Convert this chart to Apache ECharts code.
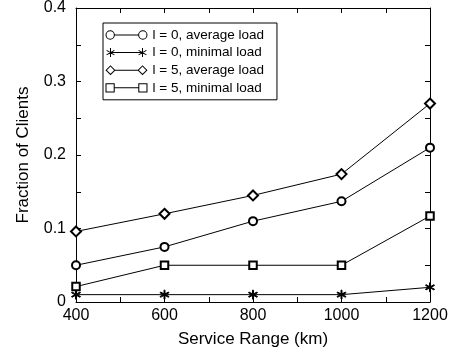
<!DOCTYPE html>
<html>
<head>
<meta charset="utf-8">
<script src="https://cdn.jsdelivr.net/npm/echarts@6/dist/echarts.min.js"></script>
<style>html,body{margin:0;padding:0;background:#fff}#c{width:455px;height:354px}</style>
</head>
<body>
<div id="c"></div>
<script>
var ranges = [400, 600, 800, 1000, 1200];
var avgLoad0 = [0.05, 0.075, 0.11, 0.137, 0.21];
var minLoad0 = [0.01, 0.01, 0.01, 0.01, 0.02];
var avgLoad5 = [0.096, 0.12, 0.145, 0.174, 0.27];
var minLoad5 = [0.021, 0.05, 0.05, 0.05, 0.117];
var names = ['l = 0, average load', 'l = 0, minimal load', 'l = 5, average load', 'l = 5, minimal load'];

var star = 'path://M9 0L11 0L11 20L9 20Z M18.16 15.87L19.16 14.13L1.84 4.13L0.84 5.87Z M19.16 5.87L18.16 4.13L0.84 14.13L1.84 15.87Z';

function f(n){ return (Math.round(n*100)/100).toString(); }
function ring(cx){
  return 'M'+f(cx-4.6)+' 5A4.6 4.6 0 1 1 '+f(cx+4.6)+' 5A4.6 4.6 0 1 1 '+f(cx-4.6)+' 5Z'+
         'M'+f(cx-3.6)+' 5A3.6 3.6 0 1 0 '+f(cx+3.6)+' 5A3.6 3.6 0 1 0 '+f(cx-3.6)+' 5Z';
}
function dia(cx){
  return 'M'+f(cx-5)+' 5L'+f(cx)+' 0L'+f(cx+5)+' 5L'+f(cx)+' 10Z'+
         'M'+f(cx-3.6)+' 5L'+f(cx)+' 8.6L'+f(cx+3.6)+' 5L'+f(cx)+' 1.4Z';
}
function sq(cx){
  return 'M'+f(cx-4.5)+' 0.5L'+f(cx+4.5)+' 0.5L'+f(cx+4.5)+' 9.5L'+f(cx-4.5)+' 9.5Z'+
         'M'+f(cx-3.5)+' 1.5L'+f(cx-3.5)+' 8.5L'+f(cx+3.5)+' 8.5L'+f(cx+3.5)+' 1.5Z';
}
function ast(cx){
  return 'M'+f(cx-0.5)+' 0.5L'+f(cx+0.5)+' 0.5L'+f(cx+0.5)+' 9.5L'+f(cx-0.5)+' 9.5Z'+
    'M'+f(cx-3.65)+' 2.32L'+f(cx+4.15)+' 6.82L'+f(cx+3.65)+' 7.68L'+f(cx-4.15)+' 3.18Z'+
    'M'+f(cx-4.15)+' 6.82L'+f(cx+3.65)+' 2.32L'+f(cx+4.15)+' 3.18L'+f(cx-3.65)+' 7.68Z';
}
function seg(x1,x2){ return 'M'+f(x1)+' 4.5L'+f(x2)+' 4.5L'+f(x2)+' 5.5L'+f(x1)+' 5.5Z'; }
var iconCircle = 'path://' + ring(5) + seg(9.2,32.8) + ring(37);
var iconStar = 'path://' + ast(5) + seg(5,37) + ast(37) + 'M0 0L0.01 0L0.01 0.01Z M42 10L41.99 10L41.99 9.99Z';
var iconDia = 'path://' + dia(5) + seg(9.5,32.5) + dia(37);
var iconSq = 'path://' + sq(5) + seg(9.2,32.8) + sq(37);

function pairs(v){ return ranges.map(function(x,i){ return [x, v[i]]; }); }
var FONT = '"Liberation Sans", Arial, sans-serif';
var chart = echarts.init(document.getElementById('c'), null, {renderer:'canvas'});

function mkSeries(name, vals, symbol, size){
  return {name:name, type:'line', data:pairs(vals), symbol:symbol, symbolSize:size,
    showAllSymbol:true, lineStyle:{color:'#000', width:1}, itemStyle:{color:'#000', borderColor:'#000', borderWidth:1},
    emphasis:{disabled:true}, animation:false, z:3};
}

var axisCommon = {
  axisLine:{show:true, onZero:false, lineStyle:{color:'#000', width:1}},
  axisTick:{show:true, inside:true, length:5, lineStyle:{color:'#000', width:1}},
  minorTick:{show:true, splitNumber:2, length:5, lineStyle:{color:'#000', width:1}},
  splitLine:{show:false}
};

chart.setOption({
  animation:false,
  backgroundColor:'#fff',
  textStyle:{fontFamily:FONT},
  grid:{left:76, right:25, top:7, bottom:52},
  legend:{
    orient:'vertical', left:103, top:23,
    borderColor:'#000', borderWidth:1, backgroundColor:'#fff',
    padding:[5,13,5,2.5],
    itemWidth:42, itemHeight:10, itemGap:3.6,
    itemStyle:{color:'#000', borderWidth:0},
    textStyle:{fontFamily:FONT, fontSize:13.5, color:'#000', lineHeight:14},
    selectedMode:false,
    data:[
      {name:names[0], icon:iconCircle},
      {name:names[1], icon:iconStar},
      {name:names[2], icon:iconDia},
      {name:names[3], icon:iconSq}
    ]
  },
  xAxis:[
    Object.assign({type:'value', min:400, max:1200, interval:200, position:'bottom',
      name:'Service Range (km)', nameLocation:'middle', nameGap:29,
      nameTextStyle:{fontFamily:FONT, fontSize:17, color:'#000'},
      axisLabel:{fontFamily:FONT, fontSize:16, color:'#000', margin:6, formatter:function(v){return String(v);}}}, axisCommon),
    Object.assign({type:'value', min:400, max:1200, interval:200, position:'top',
      axisLabel:{show:false}}, axisCommon)
  ],
  yAxis:[
    Object.assign({type:'value', min:0, max:0.4, interval:0.1, position:'left',
      name:'Fraction of Clients', nameLocation:'middle', nameGap:44,
      nameTextStyle:{fontFamily:FONT, fontSize:17, color:'#000'},
      axisLabel:{fontFamily:FONT, fontSize:16, color:'#000', margin:10}}, axisCommon),
    Object.assign({type:'value', min:0, max:0.4, interval:0.1, position:'right',
      axisLabel:{show:false}}, axisCommon)
  ],
  series:[
    mkSeries(names[0], avgLoad0, 'emptyCircle', 8),
    mkSeries(names[1], minLoad0, star, 9),
    mkSeries(names[2], avgLoad5, 'emptyDiamond', 10),
    mkSeries(names[3], minLoad5, 'emptyRect', 7.5)
  ]
});
</script>
</body>
</html>
